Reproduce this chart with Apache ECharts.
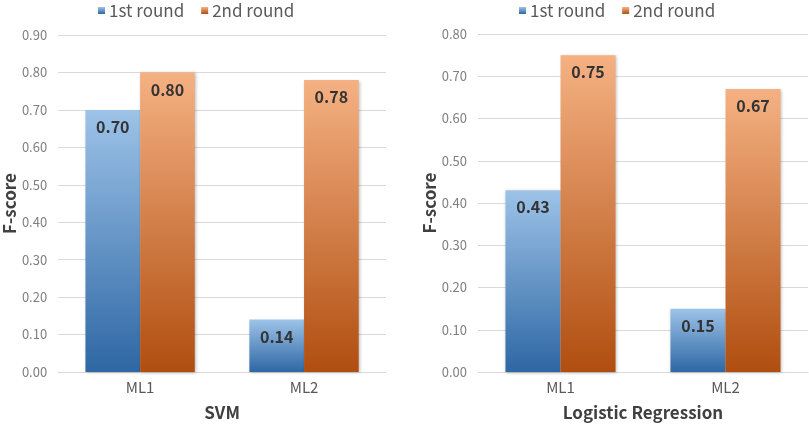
<!DOCTYPE html>
<html>
<head>
<meta charset="utf-8">
<script src="https://cdn.jsdelivr.net/npm/echarts@6/dist/echarts.min.js"></script>
<style>
html, body { margin: 0; padding: 0; background: #fff; }
#main { width: 809px; height: 428px; }
</style>
</head>
<body>
<div id="main"></div>
<script>
var myChart = echarts.init(document.getElementById('main'));

var categories = ['ML1', 'ML2'];
var seriesNames = ['1st round', '2nd round'];
// SVM panel
var svmFirst = [0.70, 0.14];
var svmSecond = [0.80, 0.78];
// Logistic Regression panel
var lrFirst = [0.43, 0.15];
var lrSecond = [0.75, 0.67];

var font = '"Noto Sans CJK SC", "Noto Sans", sans-serif';

function grad(top, bottom) {
    return new echarts.graphic.LinearGradient(0, 0, 0, 1, [
        { offset: 0, color: top },
        { offset: 1, color: bottom }
    ]);
}
var blueFill = grad('#9dc3e8', '#2e67a4');
var orangeFill = grad('#f5b183', '#b04e10');

function barSeries(name, data, idx, fill) {
    return {
        name: name,
        type: 'bar',
        xAxisIndex: idx,
        yAxisIndex: idx,
        barGap: '0%',
        barCategoryGap: '33.3%',
        data: data,
        itemStyle: {
            color: fill,
            shadowBlur: 3,
            shadowColor: 'rgba(0,0,0,0.25)',
            shadowOffsetX: 1,
            shadowOffsetY: 1
        },
        label: {
            show: true,
            position: 'insideTop',
            distance: 9,
            fontFamily: font,
            fontSize: 16,
            fontWeight: 'bold',
            color: '#333',
            formatter: function (p) { return p.value.toFixed(2); }
        }
    };
}

function yAxis(idx, max, name) {
    return {
        gridIndex: idx,
        type: 'value',
        min: 0,
        max: max,
        interval: 0.1,
        name: name,
        nameLocation: 'middle',
        nameGap: 38,
        nameTextStyle: { fontFamily: font, fontSize: 17, fontWeight: 'bold', color: '#404040' },
        axisLine: { show: false },
        axisTick: { show: false },
        axisLabel: {
            fontFamily: font, fontSize: 13, color: '#7f7f7f', margin: 11,
            formatter: function (v) { return v.toFixed(2); }
        },
        splitLine: { lineStyle: { color: '#d9d9d9' } }
    };
}

function xAxis(idx, name) {
    return {
        gridIndex: idx,
        type: 'category',
        data: categories,
        name: name,
        nameLocation: 'middle',
        nameGap: 32,
        nameTextStyle: { fontFamily: font, fontSize: 17, fontWeight: 'bold', color: '#404040' },
        axisLine: { lineStyle: { color: '#d9d9d9' } },
        axisTick: { show: false },
        axisLabel: { fontFamily: font, fontSize: 15, color: '#595959', margin: 8 }
    };
}

function legend(left) {
    return {
        left: left,
        top: -3,
        itemWidth: 7,
        itemHeight: 7,
        itemGap: 17,
        icon: 'rect',
        data: seriesNames,
        textStyle: { fontFamily: font, fontSize: 17, color: '#595959', padding: [0, 0, 0, -1] }
    };
}

option = {
    backgroundColor: '#fff',
    animation: false,
    legend: [legend(93), legend(514)],
    grid: [
        { left: 56, right: 423, top: 35, bottom: 56 },
        { left: 478, right: 1, top: 34, bottom: 56 }
    ],
    xAxis: [xAxis(0, 'SVM'), xAxis(1, 'Logistic Regression')],
    yAxis: [yAxis(0, 0.9, 'F-score'), yAxis(1, 0.8, 'F-score')],
    series: [
        barSeries(seriesNames[0], svmFirst, 0, blueFill),
        barSeries(seriesNames[1], svmSecond, 0, orangeFill),
        barSeries(seriesNames[0], lrFirst, 1, blueFill),
        barSeries(seriesNames[1], lrSecond, 1, orangeFill)
    ]
};

myChart.setOption(option);
</script>
</body>
</html>
